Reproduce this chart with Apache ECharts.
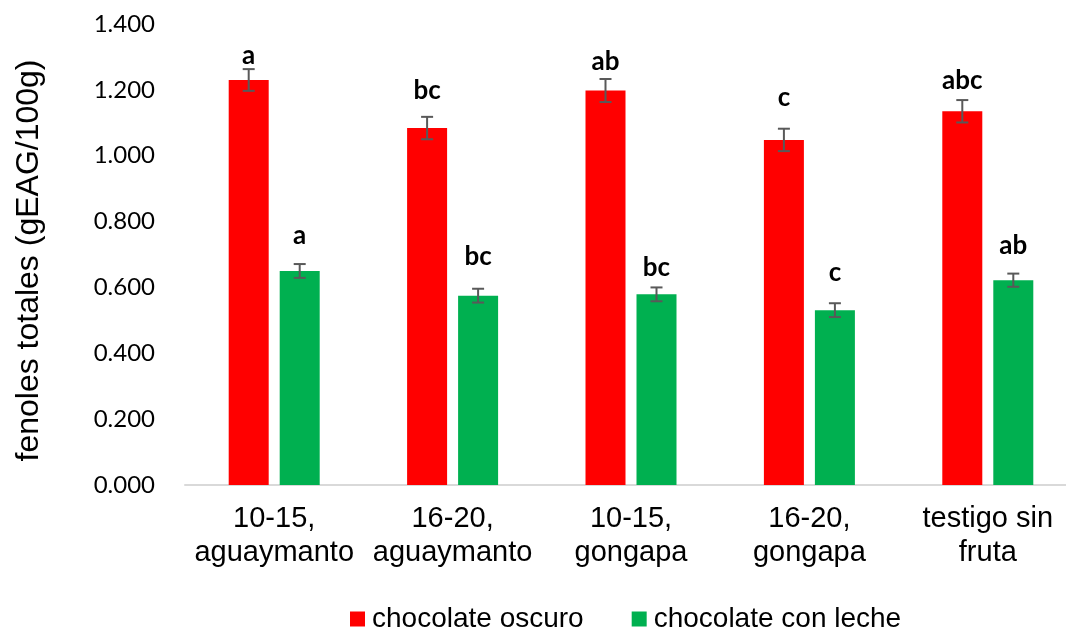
<!DOCTYPE html>
<html>
<head>
<meta charset="utf-8">
<script src="https://cdn.jsdelivr.net/npm/echarts@6/dist/echarts.min.js"></script>
<style>
html,body{margin:0;padding:0;background:#fff;}
#chart{width:1066px;height:628px;}
</style>
</head>
<body>
<div id="chart"></div>
<script>
// ---- data ----
const categories = ['10-15,\naguaymanto', '16-20,\naguaymanto', '10-15,\ngongapa', '16-20,\ngongapa', 'testigo sin\nfruta'];
const seriesNames = ['chocolate oscuro', 'chocolate con leche'];
const oscuro = [1.230, 1.084, 1.198, 1.048, 1.135];
const oscuroErr = [0.033, 0.034, 0.035, 0.034, 0.034];
const leche = [0.650, 0.575, 0.579, 0.531, 0.622];
const lecheErr = [0.021, 0.021, 0.021, 0.021, 0.020];
const oscuroLetters = ['a', 'bc', 'ab', 'c', 'abc'];
const lecheLetters = ['a', 'bc', 'bc', 'c', 'ab'];
// letter baseline heights (axis units)
const oscuroLetterY = [1.282, 1.175, 1.265, 1.154, 1.208];
const lecheLetterY = [0.736, 0.673, 0.638, 0.623, 0.705];
const yTicks = { min: 0, max: 1.4, interval: 0.2 };

// ---- style ----
const RED = '#FF0000';
const GREEN = '#00B050';
const BAR_W = 40;
const BAR_GAP = 11;
const OFF = (BAR_W + BAR_GAP) / 2;

function errRender(offset) {
  return function (params, api) {
    const i = api.value(0);
    const lo = api.coord([i, api.value(1)]);
    const hi = api.coord([i, api.value(2)]);
    const x = lo[0] + offset;
    const cap = 6;
    const style = { stroke: '#595959', lineWidth: 2 };
    return {
      type: 'group',
      children: [
        { type: 'line', shape: { x1: x, y1: lo[1], x2: x, y2: hi[1] }, style },
        { type: 'line', shape: { x1: x - cap, y1: lo[1], x2: x + cap, y2: lo[1] }, style },
        { type: 'line', shape: { x1: x - cap, y1: hi[1], x2: x + cap, y2: hi[1] }, style }
      ]
    };
  };
}

function letterRender(offset, letters) {
  return function (params, api) {
    const i = api.value(0);
    const p = api.coord([i, api.value(1)]);
    return {
      type: 'text',
      style: {
        x: p[0] + offset,
        y: p[1] + 6,
        text: letters[params.dataIndex],
        fill: '#000',
        font: 'bold 26px Lato',
        textAlign: 'center',
        textVerticalAlign: 'bottom'
      }
    };
  };
}

const chart = echarts.init(document.getElementById('chart'));
chart.setOption({
  animation: false,
  backgroundColor: '#fff',
  grid: { left: 185, width: 892, top: 24, bottom: 143, containLabel: false, outerBoundsMode: 'none' },
  legend: {
    left: 345,
    top: 600,
    itemWidth: 15,
    itemHeight: 15,
    itemGap: 48,
    icon: 'rect',
    data: seriesNames,
    textStyle: { fontFamily: 'Liberation Sans', fontSize: 28, color: '#000', padding: [0, 0, 0, 2] }
  },
  xAxis: {
    type: 'category',
    data: categories,
    axisLine: { lineStyle: { color: '#D9D9D9', width: 2 } },
    axisTick: { show: false },
    axisLabel: {
      fontFamily: 'Liberation Sans',
      fontSize: 29,
      lineHeight: 34,
      color: '#000',
      margin: 17,
      interval: 0
    }
  },
  yAxis: {
    type: 'value',
    min: yTicks.min,
    max: yTicks.max,
    interval: yTicks.interval,
    name: 'fenoles totales (gEAG/100g)',
    nameLocation: 'middle',
    nameGap: 140,
    nameTextStyle: { fontFamily: 'Liberation Sans', fontSize: 32, color: '#000', padding: [0, 12, 0, 0] },
    axisLine: { show: false },
    axisTick: { show: false },
    splitLine: { show: false },
    axisLabel: {
      fontFamily: 'Lato',
      fontSize: 24,
      color: '#000',
      margin: 30,
      formatter: v => v.toFixed(3)
    }
  },
  series: [
    {
      name: seriesNames[0], type: 'bar', data: oscuro,
      barWidth: BAR_W, barGap: (BAR_GAP / BAR_W * 100) + '%',
      itemStyle: { color: RED }
    },
    {
      name: seriesNames[1], type: 'bar', data: leche,
      barWidth: BAR_W, barGap: (BAR_GAP / BAR_W * 100) + '%',
      itemStyle: { color: GREEN }
    },
    {
      type: 'custom', silent: true, z: 5,
      renderItem: errRender(-OFF),
      encode: { x: 0, y: [1, 2] },
      data: oscuro.map((v, i) => [i, v - oscuroErr[i], v + oscuroErr[i]])
    },
    {
      type: 'custom', silent: true, z: 5,
      renderItem: errRender(OFF),
      encode: { x: 0, y: [1, 2] },
      data: leche.map((v, i) => [i, v - lecheErr[i], v + lecheErr[i]])
    },
    {
      type: 'custom', silent: true, z: 6,
      renderItem: letterRender(-OFF, oscuroLetters),
      encode: { x: 0, y: 1 },
      data: oscuroLetterY.map((v, i) => [i, v])
    },
    {
      type: 'custom', silent: true, z: 6,
      renderItem: letterRender(OFF, lecheLetters),
      encode: { x: 0, y: 1 },
      data: lecheLetterY.map((v, i) => [i, v])
    }
  ]
});
</script>
</body>
</html>
